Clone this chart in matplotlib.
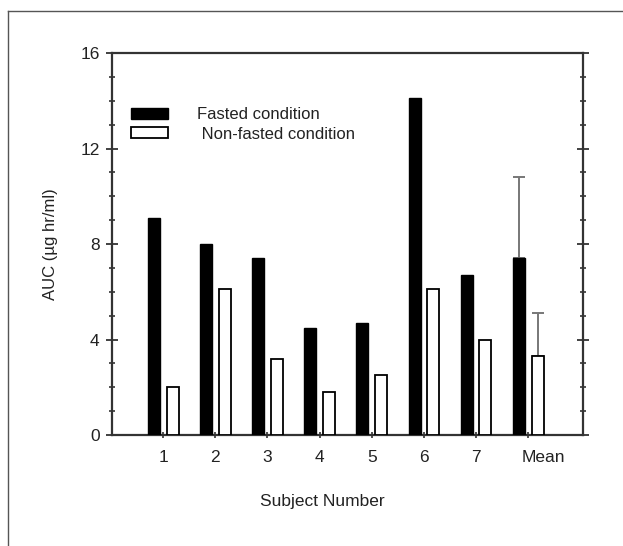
import numpy as np
import matplotlib.pyplot as plt
from matplotlib.patches import Patch
from matplotlib.ticker import MultipleLocator
from matplotlib.transforms import ScaledTranslation

subjects = ["1", "2", "3", "4", "5", "6", "7", "Mean"]
fasted = [9.1, 8.0, 7.4, 4.5, 4.7, 14.1, 6.7, 7.4]
non_fasted = [2.0, 6.1, 3.2, 1.8, 2.5, 6.1, 4.0, 3.3]
# SD is only shown for the mean bars (upper side)
fasted_sd = [0, 0, 0, 0, 0, 0, 0, 3.4]
non_fasted_sd = [0, 0, 0, 0, 0, 0, 0, 1.8]

plt.rcParams["font.family"] = ["Liberation Sans", "DejaVu Sans"]
ink = "#222222"

fig = plt.figure(figsize=(6.23, 5.46), dpi=100)
ax = fig.add_axes([0.1798, 0.2033, 0.756, 0.6996])

x = np.arange(1, len(subjects) + 1)
w = 0.23
off = 0.18

ax.bar(x - off, fasted, w, color="black", edgecolor="black", linewidth=1.0, zorder=3)
ax.bar(x + off, non_fasted, w, color="white", edgecolor="black", linewidth=1.3, zorder=3)

# upward error bars on the mean
m = len(subjects) - 1
ax.errorbar(x[m] - off, fasted[m], yerr=[[0], [fasted_sd[m]]], fmt="none",
            ecolor="#777777", elinewidth=1.4, capsize=4, capthick=1.4, zorder=2)
ax.errorbar(x[m] + off, non_fasted[m], yerr=[[0], [non_fasted_sd[m]]], fmt="none",
            ecolor="#777777", elinewidth=1.4, capsize=4, capthick=1.4, zorder=2)

ax.set_xlim(0.02, 9.05)
ax.set_ylim(0, 16)
ax.set_xticks(x)
ax.set_xticklabels(subjects)
ax.yaxis.set_major_locator(MultipleLocator(4))
ax.yaxis.set_minor_locator(MultipleLocator(1))

for s in ax.spines.values():
    s.set_linewidth(1.6)
    s.set_color("#333333")

ax.tick_params(axis="y", which="major", direction="inout", length=8, width=1.3,
               right=True, labelsize=12.5, labelcolor=ink, pad=5, color="#333333")
ax.tick_params(axis="y", which="minor", direction="inout", length=5, width=1.2,
               right=True, color="#333333")
ax.tick_params(axis="x", which="major", direction="inout", length=5, width=1.2,
               labelsize=12.5, labelcolor=ink, pad=8, color="#333333")

# the "Mean" label sits a bit right of its tick
mean_lbl = ax.get_xticklabels()[-1]
mean_lbl.set_transform(mean_lbl.get_transform()
                       + ScaledTranslation(0.15, 0, fig.dpi_scale_trans))

ax.set_ylabel("AUC (µg hr/ml)", fontsize=12, color=ink, labelpad=16)
ax.set_xlabel("Subject Number", fontsize=12.5, color=ink)
ax.xaxis.set_label_coords(0.446, -0.155)

handles = [Patch(facecolor="black", edgecolor="black"),
           Patch(facecolor="white", edgecolor="black", linewidth=1.3)]
leg = ax.legend(handles, ["Fasted condition", " Non-fasted condition"],
                loc="upper left", bbox_to_anchor=(0.027, 0.875), frameon=False,
                fontsize=12, handlelength=2.2, handleheight=0.6,
                handletextpad=1.75, labelspacing=0.25, borderaxespad=0)
for t in leg.get_texts():
    t.set_color(ink)

# thin page frame (left and top edges only)
fig.add_artist(plt.Line2D([8 / 623, 8 / 623], [0, 1 - 11 / 546],
                          transform=fig.transFigure, color="#555555", lw=1.0))
fig.add_artist(plt.Line2D([8 / 623, 1], [1 - 11 / 546, 1 - 11 / 546],
                          transform=fig.transFigure, color="#555555", lw=1.0))

fig.savefig("out.png", dpi=100)
